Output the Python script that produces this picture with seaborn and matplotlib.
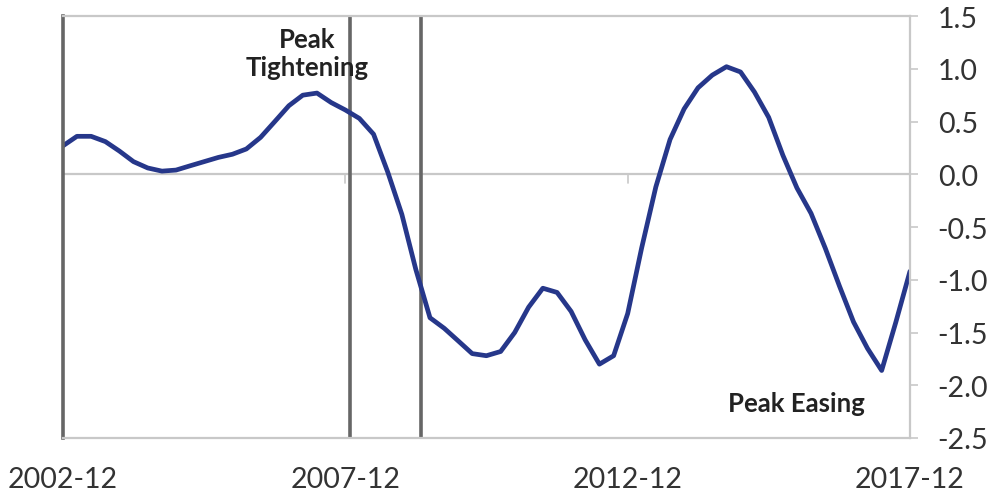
#!/usr/bin/env python3

import pandas as pd
import seaborn as sns
import matplotlib.pyplot as plt
import matplotlib.dates as mdates

# quarterly readings, 2002-12 .. 2017-12
dates = pd.date_range("2002-12-01", "2017-12-01", freq="3MS")
values = [
    0.27, 0.36, 0.36, 0.31, 0.22, 0.12, 0.06, 0.03, 0.04, 0.08,
    0.12, 0.16, 0.19, 0.24, 0.35, 0.50, 0.65, 0.75, 0.77, 0.68,
    0.61, 0.53, 0.38, 0.02, -0.38, -0.90, -1.36, -1.46, -1.58, -1.70,
    -1.72, -1.68, -1.50, -1.26, -1.08, -1.12, -1.30, -1.57, -1.80, -1.72,
    -1.32, -0.70, -0.12, 0.33, 0.62, 0.82, 0.94, 1.02, 0.97, 0.78,
    0.54, 0.18, -0.13, -0.37, -0.70, -1.06, -1.40, -1.65, -1.86, -1.40,
    -0.92,
]
tick_dates = ["2002-12-01", "2007-12-01", "2012-12-01", "2017-12-01"]
marker_dates = ["2008-01-01", "2009-04-01"]
y_ticks = [1.5, 1.0, 0.5, 0.0, -0.5, -1.0, -1.5, -2.0, -2.5]

df = pd.DataFrame({"date": dates, "value": values})

sns.set_style("white")
plt.rcParams["font.family"] = ["Lato", "DejaVu Sans"]

fig = plt.figure(figsize=(9.97, 5.02), dpi=100)
ax = fig.add_axes([0.0632, 0.1255, 0.8495, 0.8405])

sns.lineplot(data=df, x="date", y="value", ax=ax, color="#26378a", linewidth=3.4)

# marker lines
for d in marker_dates:
    ax.axvline(pd.Timestamp(d), color="#666666", linewidth=2.6, zorder=1)
ax.axhline(0, color="#c8c8c8", linewidth=1.6, zorder=0)

# small category ticks sitting on the zero line
for d in tick_dates[1:]:
    ax.plot([pd.Timestamp(d)] * 2, [0, -0.08], color="#c8c8c8", linewidth=1.2, zorder=0)

ax.set_xlim(pd.Timestamp(tick_dates[0]), pd.Timestamp(tick_dates[-1]))
ax.set_ylim(-2.5, 1.5)
ax.set_xticks([pd.Timestamp(d) for d in tick_dates])
ax.xaxis.set_major_formatter(mdates.DateFormatter("%Y-%m"))
ax.set_yticks(y_ticks)
ax.set_yticklabels([f"{v:.1f}" for v in y_ticks])
ax.yaxis.tick_right()
ax.set_xlabel("")
ax.set_ylabel("")

ax.tick_params(axis="x", length=0, pad=20, labelsize=20.5, colors="#333333")
ax.tick_params(axis="y", right=True, length=6, width=1.2, color="#c8c8c8",
               pad=14, labelsize=20.5, labelcolor="#333333")

for side in ["top", "bottom", "right"]:
    ax.spines[side].set_color("#c8c8c8")
    ax.spines[side].set_linewidth(1.6)
ax.spines["left"].set_color("#666666")
ax.spines["left"].set_linewidth(2.6)

ax.text(0.288, 0.975, "Peak\nTightening", transform=ax.transAxes, ha="center",
        va="top", fontsize=18.5, fontweight="bold", color="#222222", linespacing=1.2)
ax.text(0.866, 0.082, "Peak Easing", transform=ax.transAxes, ha="center",
        va="center", fontsize=18.5, fontweight="bold", color="#222222")

plt.savefig("out.png", dpi=100)
